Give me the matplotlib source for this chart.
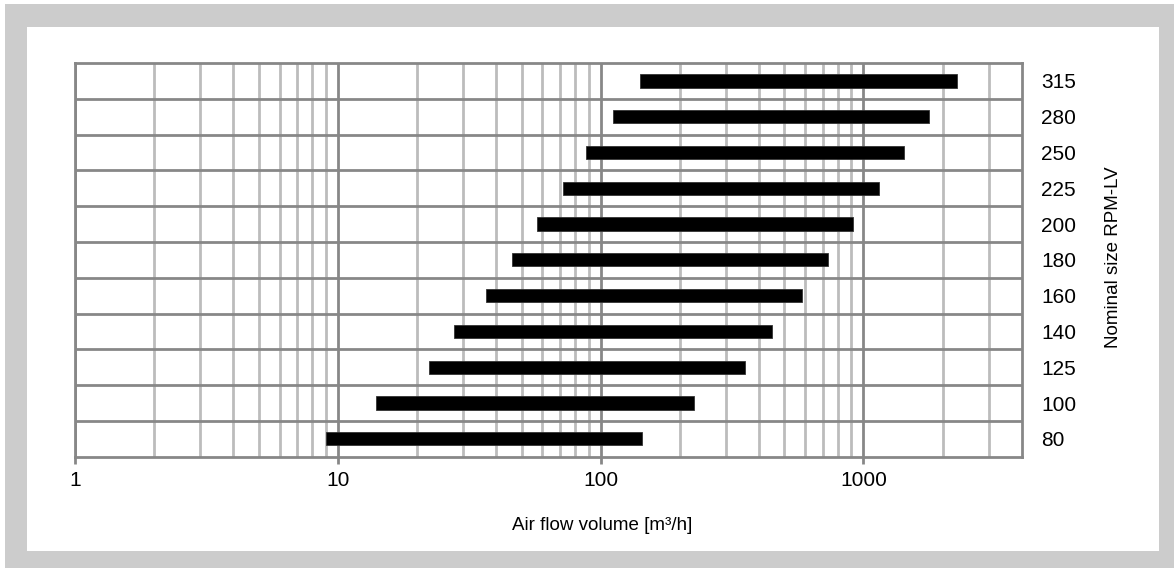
#!/usr/bin/env python3
"""Air flow ranges per nominal size, log scale."""

import matplotlib

matplotlib.use("Agg")
import matplotlib.pyplot as plt
import numpy as np
from matplotlib.patches import Rectangle
from matplotlib.ticker import FixedLocator, NullFormatter

plt.rcParams["font.family"] = ["Liberation Sans", "DejaVu Sans"]

sizes = ["80", "100", "125", "140", "160", "180", "200", "225", "250", "280", "315"]
flow_min = [9, 14, 22.3, 27.7, 36.5, 46, 57.3, 72, 88, 111, 141]
flow_max = [144, 226, 354, 447, 582, 732, 912, 1150, 1425, 1780, 2270]

W, H = 1174, 568
DARK = "#878787"
LIGHT = "#bcbcbc"
LW = 2.0


def main() -> None:
    fig = plt.figure(figsize=(W / 100, H / 100), dpi=100)
    fig.patch.set_facecolor("white")

    # grey frame with white panel
    fig.patches.append(Rectangle((5 / W, 0), 1 - 5 / W, 1 - 4 / H,
                                 transform=fig.transFigure, facecolor="#cccccc",
                                 edgecolor="none", zorder=-2))
    fig.patches.append(Rectangle((27 / W, 1 - 551 / H), (1159 - 27) / W, (551 - 27) / H,
                                 transform=fig.transFigure, facecolor="white",
                                 edgecolor="none", zorder=-1))

    left, right, top, bottom = 75, 1021.7, 63, 456.7
    ax = fig.add_axes([left / W, 1 - bottom / H, (right - left) / W, (bottom - top) / H])
    ax.set_facecolor("white")

    y = np.arange(len(sizes))
    lo = np.array(flow_min)
    hi = np.array(flow_max)
    ax.barh(y, hi - lo, left=lo, height=0.37, color="black",
            edgecolor="#333333", linewidth=0.6, zorder=3)

    ax.set_xscale("log")
    ax.set_xlim(1, 4000)
    ax.set_ylim(-0.5, len(sizes) - 0.5)

    ax.xaxis.set_major_locator(FixedLocator([1, 10, 100, 1000]))
    ax.set_xticklabels(["1", "10", "100", "1000"])
    minors = [m * 10**d for d in range(4) for m in range(2, 10) if m * 10**d < 4000]
    ax.xaxis.set_minor_locator(FixedLocator(minors))
    ax.xaxis.set_minor_formatter(NullFormatter())
    ax.tick_params(axis="x", which="major", length=5, width=LW, color=DARK,
                   labelsize=15, pad=5, labelcolor="black")
    ax.tick_params(axis="x", which="minor", length=0)

    ax.set_yticks(y)
    ax.set_yticklabels(sizes)
    ax.yaxis.set_minor_locator(FixedLocator(y[:-1] + 0.5))
    ax.yaxis.tick_right()
    ax.tick_params(axis="y", which="both", length=0, labelsize=15, pad=14,
                   labelcolor="black")

    ax.grid(axis="x", which="minor", color=LIGHT, linewidth=LW, zorder=1)
    ax.grid(axis="x", which="major", color=DARK, linewidth=LW, zorder=2)
    ax.grid(axis="y", which="minor", color=DARK, linewidth=LW, zorder=2)
    ax.set_axisbelow(True)

    for s in ax.spines.values():
        s.set_color(DARK)
        s.set_linewidth(LW)

    fig.text(602 / W, 1 - 525 / H, "Air flow volume [m³/h]", ha="center",
             va="center", fontsize=13.5)
    fig.text(1113 / W, 1 - 257 / H, "Nominal size RPM-LV", ha="center",
             va="center", rotation=90, fontsize=13.5)

    fig.savefig("out.png", dpi=100)


if __name__ == "__main__":
    main()
